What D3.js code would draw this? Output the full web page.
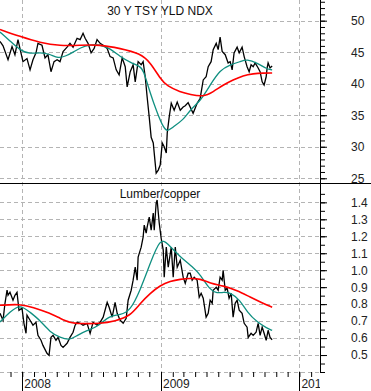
<!DOCTYPE html>
<html>
<head>
<meta charset="utf-8">
<script src="https://cdn.jsdelivr.net/npm/d3@7"></script>
<style>
  body { margin: 0; background: #fff; }
  svg { display: block; font-family: "Liberation Sans", Arial, sans-serif; }
</style>
</head>
<body>
<div id="chart"></div>
<script>
// dates are decimal years
const tsyNdx = [
  [2007.839,46.7],[2007.861,46.0],[2007.897,43.8],[2007.926,45.9],[2007.947,44.6],[2007.969,47.0],[2007.983,45.6],
  [2008.005,43.5],[2008.034,44.0],[2008.056,42.2],[2008.077,43.8],[2008.099,44.9],[2008.113,46.4],[2008.142,46.1],
  [2008.164,44.1],[2008.185,44.6],[2008.207,41.9],[2008.229,43.5],[2008.251,43.8],[2008.272,43.5],[2008.294,45.1],
  [2008.323,45.8],[2008.344,46.4],[2008.366,45.8],[2008.395,47.2],[2008.417,47.0],[2008.438,48.0],[2008.453,47.2],
  [2008.474,46.4],[2008.496,44.9],[2008.518,45.6],[2008.539,47.0],[2008.561,46.4],[2008.583,46.1],[2008.612,45.6],
  [2008.633,44.3],[2008.655,44.1],[2008.677,42.2],[2008.698,41.4],[2008.720,44.1],[2008.742,42.7],[2008.756,39.5],
  [2008.778,41.9],[2008.799,43.0],[2008.814,40.3],[2008.835,43.5],[2008.857,43.0],[2008.871,43.5],[2008.886,41.1],
  [2008.900,37.9],[2008.915,34.7],[2008.929,31.5],[2008.944,30.6],[2008.958,27.4],[2008.965,25.8],[2008.980,26.3],
  [2008.994,27.1],[2009.009,30.6],[2009.023,30.0],[2009.038,29.0],[2009.045,32.2],[2009.059,34.7],[2009.074,36.9],
  [2009.095,35.8],[2009.117,37.1],[2009.139,35.8],[2009.160,36.3],[2009.175,36.5],[2009.196,37.0],[2009.232,35.3],
  [2009.261,36.9],[2009.283,37.7],[2009.305,40.6],[2009.326,41.1],[2009.341,42.7],[2009.362,43.5],[2009.377,45.4],
  [2009.399,46.4],[2009.413,45.4],[2009.427,47.4],[2009.442,45.1],[2009.464,44.6],[2009.485,43.3],[2009.500,43.5],
  [2009.514,42.2],[2009.528,44.9],[2009.550,45.8],[2009.565,44.9],[2009.586,45.8],[2009.601,44.3],[2009.622,42.7],
  [2009.637,41.9],[2009.651,43.0],[2009.666,42.7],[2009.680,43.3],[2009.702,42.5],[2009.716,41.9],[2009.731,40.3],
  [2009.745,39.8],[2009.760,41.1],[2009.767,42.5],[2009.774,43.3],[2009.788,42.5],[2009.803,42.8]
]
const tsyFast = [
  [2007.839,48.2],[2007.911,46.8],[2007.983,45.3],[2008.056,44.7],[2008.128,45.0],[2008.200,44.7],[2008.258,44.0],
  [2008.316,44.4],[2008.366,45.0],[2008.417,45.7],[2008.489,46.2],[2008.561,46.2],[2008.633,45.6],[2008.705,44.3],
  [2008.778,43.4],[2008.850,42.7],[2008.871,42.3],[2008.922,38.5],[2008.972,35.4],[2009.009,33.4],[2009.045,32.3],
  [2009.081,33.1],[2009.160,34.2],[2009.211,35.9],[2009.283,37.2],[2009.355,39.8],[2009.427,42.2],[2009.500,43.0],
  [2009.572,43.5],[2009.622,43.9],[2009.695,43.3],[2009.767,42.3],[2009.803,42.2]
]
const tsySlow = [
  [2007.839,48.6],[2007.983,47.5],[2008.128,46.5],[2008.272,46.0],[2008.417,46.1],[2008.561,46.2],[2008.705,45.6],
  [2008.850,44.8],[2008.922,43.4],[2008.994,40.8],[2009.045,39.6],[2009.139,38.7],[2009.211,38.3],[2009.305,37.9],
  [2009.377,38.7],[2009.449,39.8],[2009.521,40.6],[2009.593,41.3],[2009.666,41.6],[2009.738,41.7],[2009.803,41.7]
]
const lumberCopper = [
  [2007.839,0.746],[2007.861,0.705],[2007.875,0.805],[2007.890,0.882],[2007.897,0.852],[2007.911,0.870],[2007.933,0.823],
  [2007.947,0.852],[2007.962,0.870],[2007.976,0.764],[2007.998,0.776],[2008.012,0.687],[2008.027,0.628],[2008.034,0.735],
  [2008.056,0.705],[2008.077,0.676],[2008.099,0.693],[2008.113,0.616],[2008.135,0.587],[2008.149,0.557],[2008.178,0.510],
  [2008.193,0.498],[2008.207,0.604],[2008.222,0.616],[2008.243,0.587],[2008.258,0.604],[2008.279,0.557],[2008.294,0.545],
  [2008.323,0.569],[2008.344,0.604],[2008.366,0.634],[2008.381,0.676],[2008.395,0.693],[2008.417,0.687],[2008.438,0.676],
  [2008.467,0.687],[2008.489,0.628],[2008.510,0.693],[2008.539,0.676],[2008.561,0.693],[2008.583,0.723],[2008.612,0.811],
  [2008.626,0.782],[2008.648,0.723],[2008.669,0.811],[2008.684,0.746],[2008.705,0.705],[2008.727,0.687],[2008.749,0.717],
  [2008.763,0.823],[2008.785,0.882],[2008.799,0.941],[2008.814,1.018],[2008.828,0.941],[2008.835,1.077],[2008.857,1.136],
  [2008.871,1.195],[2008.879,1.266],[2008.893,1.218],[2008.900,1.254],[2008.915,1.313],[2008.929,1.236],[2008.944,1.337],
  [2008.951,1.236],[2008.965,1.396],[2008.972,1.414],[2008.987,1.278],[2009.001,1.189],[2009.016,1.118],[2009.023,0.959],
  [2009.038,1.136],[2009.052,1.018],[2009.074,1.136],[2009.088,0.959],[2009.103,1.136],[2009.117,1.018],[2009.139,1.059],
  [2009.160,0.959],[2009.175,0.923],[2009.196,0.982],[2009.211,0.982],[2009.225,0.941],[2009.240,0.959],[2009.261,0.941],
  [2009.276,0.841],[2009.290,0.864],[2009.305,0.835],[2009.326,0.723],[2009.341,0.746],[2009.355,0.823],[2009.370,0.805],
  [2009.377,0.882],[2009.399,0.899],[2009.413,0.882],[2009.427,0.959],[2009.442,0.941],[2009.449,1.000],[2009.464,0.882],
  [2009.478,0.894],[2009.492,0.835],[2009.507,0.864],[2009.521,0.723],[2009.536,0.805],[2009.550,0.823],[2009.565,0.764],
  [2009.586,0.746],[2009.601,0.687],[2009.622,0.664],[2009.630,0.604],[2009.651,0.628],[2009.666,0.616],[2009.687,0.634],
  [2009.702,0.687],[2009.716,0.616],[2009.731,0.664],[2009.745,0.628],[2009.760,0.587],[2009.774,0.646],[2009.788,0.604],
  [2009.803,0.590]
]
const lcFast = [
  [2007.839,0.695],[2007.911,0.754],[2007.983,0.800],[2008.056,0.752],[2008.128,0.705],[2008.200,0.634],[2008.272,0.604],
  [2008.344,0.587],[2008.395,0.616],[2008.467,0.646],[2008.539,0.664],[2008.633,0.735],[2008.705,0.735],[2008.778,0.760],
  [2008.850,0.882],[2008.922,1.041],[2008.994,1.189],[2009.045,1.160],[2009.139,1.077],[2009.232,1.018],[2009.283,0.975],
  [2009.355,0.882],[2009.406,0.864],[2009.449,0.870],[2009.500,0.870],[2009.572,0.823],[2009.622,0.752],[2009.695,0.693],
  [2009.767,0.658],[2009.803,0.645]
]
const lcSlow = [
  [2007.839,0.793],[2007.983,0.801],[2008.077,0.782],[2008.200,0.746],[2008.272,0.717],[2008.344,0.690],[2008.417,0.685],
  [2008.561,0.685],[2008.669,0.700],[2008.778,0.730],[2008.850,0.805],[2008.922,0.864],[2008.994,0.911],[2009.066,0.935],
  [2009.139,0.947],[2009.211,0.952],[2009.283,0.950],[2009.355,0.923],[2009.449,0.908],[2009.550,0.882],[2009.644,0.841],
  [2009.738,0.805],[2009.803,0.782]
]
const yearTicks = [2008, 2009, 2010]
const topTicks = [25, 30, 35, 40, 45, 50]
const bottomTicks = [0.5, 0.6, 0.7, 0.8, 0.9, 1.0, 1.1, 1.2, 1.3, 1.4]

const width = 371
const height = 391
const plotRight = 320
const split = 183
const plotBottom = 372

const toDate = (t) => {
  const yr = Math.floor(t)
  const a = new Date(yr, 0, 1), b = new Date(yr + 1, 0, 1)
  return new Date(+a + (t - yr) * (b - a))
}

const x = d3.scaleTime()
  .domain([toDate(2007.839), toDate(2010.149)])
  .range([0, plotRight])
const yTop = d3.scaleLinear().domain([24.25, 53.28]).range([split, 0])
const yBot = d3.scaleLinear().domain([0.4, 1.514]).range([plotBottom, split])

const svg = d3.select('#chart').append('svg')
  .attr('width', width)
  .attr('height', height)

svg.append('rect').attr('width', width).attr('height', height).attr('fill', '#fff')

const defs = svg.append('defs')
defs.append('clipPath').attr('id', 'clipTop')
  .append('rect').attr('width', plotRight).attr('height', split)
defs.append('clipPath').attr('id', 'clipBot')
  .append('rect').attr('y', split).attr('width', plotRight).attr('height', plotBottom - split)
defs.append('clipPath').attr('id', 'clipLabels')
  .append('rect').attr('y', plotBottom).attr('width', plotRight).attr('height', height - plotBottom)

const grid = svg.append('g')
  .attr('stroke', '#b4b4b4')
  .attr('stroke-dasharray', '4,3')
  .attr('shape-rendering', 'crispEdges')

grid.selectAll('.gt').data(topTicks).join('line')
  .attr('x1', 0).attr('x2', plotRight)
  .attr('y1', d => Math.round(yTop(d)) + 0.5).attr('y2', d => Math.round(yTop(d)) + 0.5)
grid.selectAll('.gb').data(d3.range(4, 15).map(d => d / 10)).join('line')
  .attr('x1', 0).attr('x2', plotRight)
  .attr('y1', d => Math.round(yBot(d)) + 0.5).attr('y2', d => Math.round(yBot(d)) + 0.5)
grid.selectAll('.gv').data(yearTicks).join('line')
  .attr('x1', d => Math.round(x(toDate(d))) + 0.5).attr('x2', d => Math.round(x(toDate(d))) + 0.5)
  .attr('y1', 0).attr('y2', plotBottom)

const line = (y) => d3.line().x(d => x(toDate(d[0]))).y(d => y(d[1]))
const smooth = (y) => d3.line().curve(d3.curveBasis).x(d => x(toDate(d[0]))).y(d => y(d[1]))

const panels = [
  {clip: 'clipTop', y: yTop, raw: tsyNdx, fast: tsyFast, slow: tsySlow},
  {clip: 'clipBot', y: yBot, raw: lumberCopper, fast: lcFast, slow: lcSlow}
]

panels.forEach(p => {
  const g = svg.append('g').attr('clip-path', `url(#${p.clip})`).attr('fill', 'none')
  g.append('path').attr('d', line(p.y)(p.raw)).attr('stroke', '#000').attr('stroke-width', 1.3)
  g.append('path').attr('d', smooth(p.y)(p.fast)).attr('stroke', '#0f8f80').attr('stroke-width', 1.3)
  g.append('path').attr('d', smooth(p.y)(p.slow)).attr('stroke', '#ff0000').attr('stroke-width', 1.6)
})

// frame
svg.append('line')
  .attr('x1', 0).attr('x2', width).attr('y1', split + 0.5).attr('y2', split + 0.5)
  .attr('stroke', '#000')
svg.append('line')
  .attr('x1', plotRight + 0.5).attr('x2', plotRight + 0.5).attr('y1', 0).attr('y2', plotBottom)
  .attr('stroke', '#000')

// right axes
const styleAxis = (g) => {
  g.select('.domain').remove()
  g.selectAll('line').attr('stroke', '#000')
  g.selectAll('text').attr('font-size', 12).attr('fill', '#222')
    .attr('font-family', '"Liberation Sans", Arial, sans-serif')
}

svg.append('g').attr('transform', `translate(${plotRight},0)`)
  .call(d3.axisRight(yTop).tickValues(d3.range(25, 54)).tickSize(5).tickFormat(''))
  .call(styleAxis)
svg.append('g').attr('transform', `translate(${plotRight},0)`)
  .call(d3.axisRight(yTop).tickValues(topTicks).tickSize(7).tickPadding(24).tickFormat(d3.format('d')))
  .call(styleAxis)

svg.append('g').attr('transform', `translate(${plotRight},0)`)
  .call(d3.axisRight(yBot).tickValues(d3.range(8, 30).map(d => d / 20)).tickSize(5).tickFormat(''))
  .call(styleAxis)
svg.append('g').attr('transform', `translate(${plotRight},0)`)
  .call(d3.axisRight(yBot).tickValues(bottomTicks).tickSize(7).tickPadding(24).tickFormat(d3.format('.1f')))
  .call(styleAxis)

// x axis: month ticks, long year ticks, year labels
svg.append('g').attr('transform', `translate(0,${plotBottom})`)
  .call(d3.axisBottom(x).ticks(d3.timeMonth.every(1)).tickSize(5).tickFormat(''))
  .call(styleAxis)

const years = svg.append('g').attr('clip-path', 'url(#clipLabels)')
years.selectAll('line').data(yearTicks).join('line')
  .attr('x1', d => Math.round(x(toDate(d))) + 0.5).attr('x2', d => Math.round(x(toDate(d))) + 0.5)
  .attr('y1', plotBottom).attr('y2', height)
  .attr('stroke', '#000')
years.selectAll('text').data(yearTicks).join('text')
  .attr('x', d => x(toDate(d)) + 2)
  .attr('y', 388)
  .attr('font-size', 12)
  .attr('fill', '#222')
  .text(d => d)

// titles
svg.append('text').attr('x', 160).attr('y', 15).attr('text-anchor', 'middle')
  .attr('font-size', 12).attr('fill', '#111').text('30 Y TSY YLD NDX')
svg.append('text').attr('x', 160).attr('y', 198).attr('text-anchor', 'middle')
  .attr('font-size', 12).attr('fill', '#111').text('Lumber/copper')
</script>
</body>
</html>
